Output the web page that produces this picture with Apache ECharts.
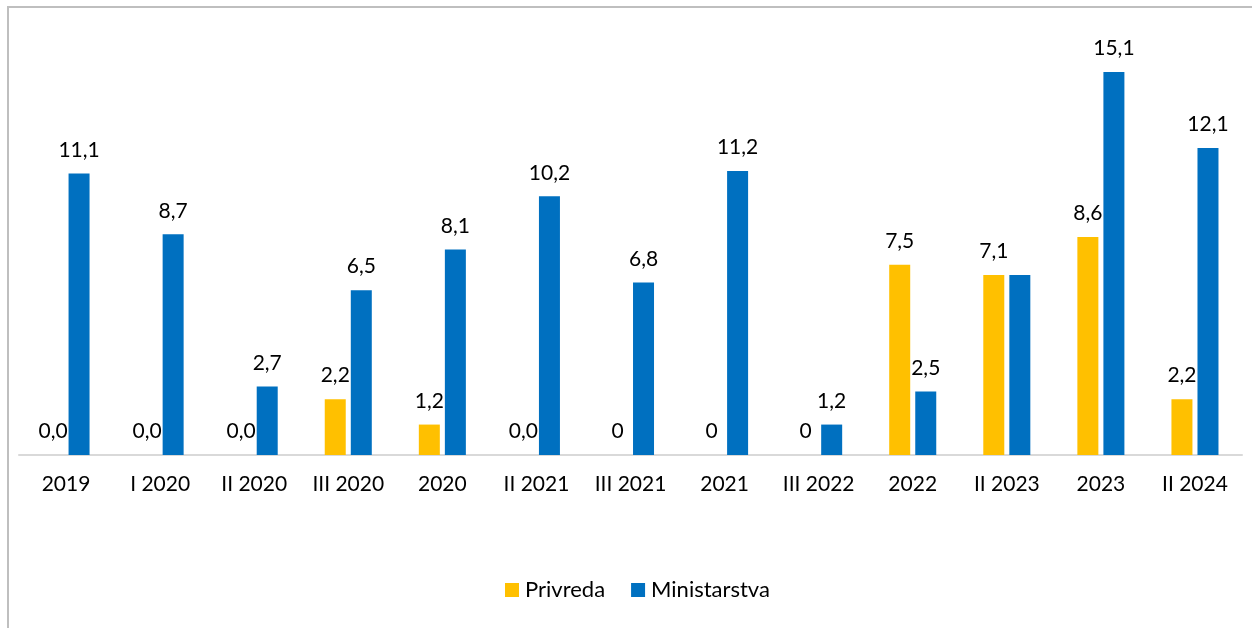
<!DOCTYPE html>
<html><head><meta charset="utf-8">
<script src="https://cdn.jsdelivr.net/npm/echarts@6/dist/echarts.min.js"></script>
<style>html,body{margin:0;padding:0;background:#fff}#c{width:1252px;height:628px}</style>
</head><body><div id="c"></div>
<script>
const categories = ['2019','I 2020','II 2020','III 2020','2020','II 2021','III 2021','2021','III 2022','2022','II 2023','2023','II 2024'];
const privreda = [0.0,0.0,0.0,2.2,1.2,0.0,0,0,0,7.5,7.1,8.6,2.2];
const privredaLabels = ['0,0','0,0','0,0','2,2','1,2','0,0','0','0','0','7,5','7,1','8,6','2,2'];
const ministarstva = [11.1,8.7,2.7,6.5,8.1,10.2,6.8,11.2,1.2,2.5,7.1,15.1,12.1];
const ministarstvaLabels = ['11,1','8,7','2,7','6,5','8,1','10,2','6,8','11,2','1,2','2,5','','15,1','12,1'];

const font = 'Lato, "Open Sans", sans-serif';
const fs = 21;
const chart = echarts.init(document.getElementById('c'));
chart.setOption({
  animation:false,
  graphic:[{type:'rect',shape:{x:8,y:7,width:1400,height:800},style:{fill:'none',stroke:'#bfbfbf',lineWidth:2},silent:true}],
  grid:{left:19,right:10,top:49.2,bottom:173},
  legend:{top:579,left:505,padding:0,itemWidth:14,itemHeight:14,itemGap:26,icon:'rect',
    textStyle:{fontFamily:font,fontSize:22,color:'#000',padding:[0,0,0,1]},data:['Privreda','Ministarstva']},
  xAxis:{type:'category',data:categories,axisTick:{show:false},
    axisLine:{lineStyle:{color:'#d9d9d9',width:2}},
    axisLabel:{fontFamily:font,fontSize:fs,color:'#000',margin:19,interval:0}},
  yAxis:{type:'value',min:0,max:16,show:false,splitLine:{show:false}},
  series:[
    {name:'Privreda',type:'bar',data:privreda,barWidth:21,barGap:'24%',itemStyle:{color:'#FFC000'},
      label:{show:true,position:'top',distance:13,fontFamily:font,fontSize:fs,color:'#000',
        formatter:p=>privredaLabels[p.dataIndex]}},
    {name:'Ministarstva',type:'bar',data:ministarstva,barWidth:21,itemStyle:{color:'#0070C0'},
      label:{show:true,position:'top',distance:13,fontFamily:font,fontSize:fs,color:'#000',
        formatter:p=>ministarstvaLabels[p.dataIndex]}}
  ]
});
</script></body></html>
